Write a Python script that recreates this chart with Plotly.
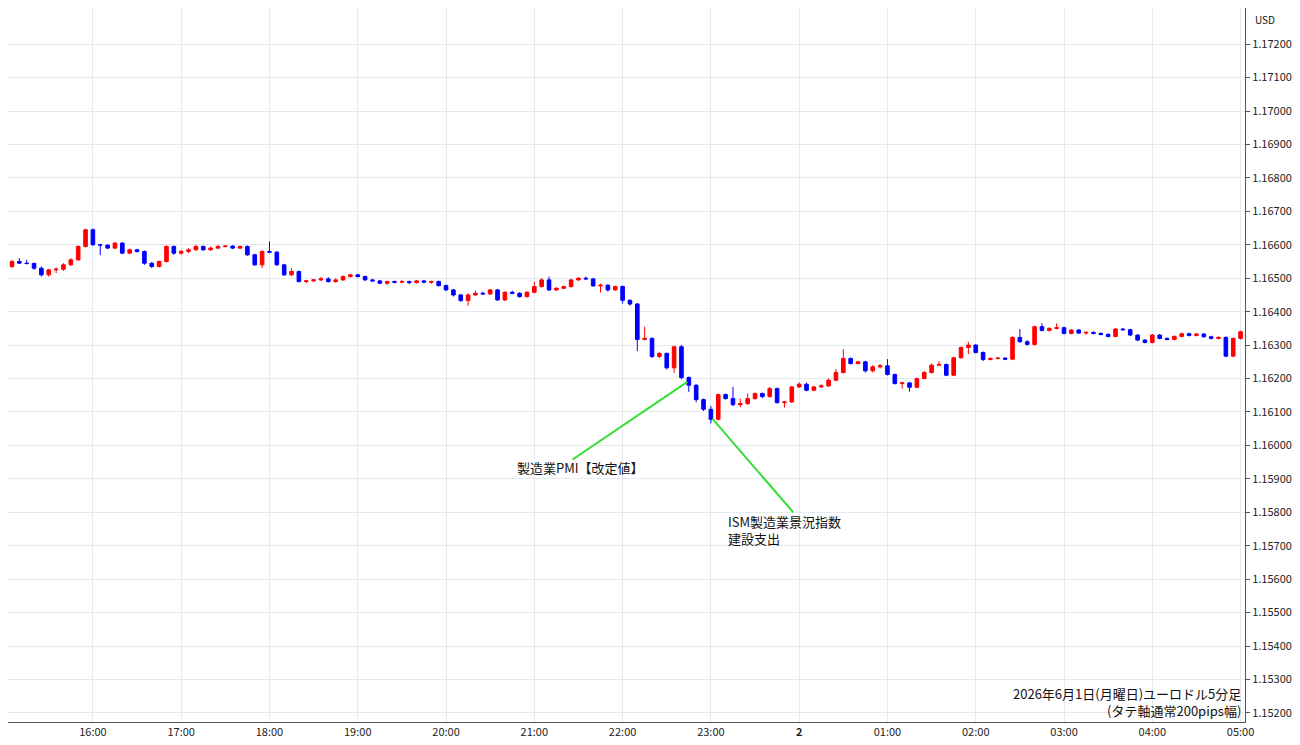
import plotly.graph_objects as go
import pandas as pd

BASE = 1.16
PIP = 0.0001
first_open = 51.5  # pips above 1.16000
closes = [
    53.5,55,54.5,54.4,53,51,52.5,52.7,54,55.5,59.5,64.5,
    60,59.9,59,60.5,57.5,58.5,58,54.5,53.5,55,59.5,57.5,
    58,58.5,59.5,58.5,59,59.5,59.6,59,59.5,57,54,58,
    57.8,54,51,52,49,49.2,49.5,49.8,49,49.5,50.5,51,
    50.5,49.5,49.2,48.5,49,48.8,49,48.7,49.2,48.8,49,47.8,
    46.5,45,43.3,45,45.5,45.3,46.5,43.5,45.8,45.5,44.5,45.8,
    47.5,49.5,46.5,47,47.5,49.5,50,49.8,47.7,47.9,46.5,47.5,
    43.4,42.3,31.7,32,26.6,27.5,23.2,29.5,20.3,18,13.7,10.8,
    7.8,15.2,14,12.2,12.5,14,15.5,14.6,17,12.8,13,17.5,
    18.3,16.5,17.5,17.8,19.5,21.8,26,24.5,25,22.3,23.5,23.8,
    21.2,18.5,18.7,17.4,20,21.8,24,24.2,21,26.2,29.3,30,
    27.8,25.7,26,26.1,25.8,32.3,31,30.2,35.5,34.4,35,35.2,
    33.5,34.5,33.6,33.8,33.5,33.2,32.6,34.8,34.6,33,31.5,30.8,
    33,32,31.7,32.6,33.4,32.9,33.3,32.5,32,32.3,26.7,32,
    34,
]
upper_wick = [
    1,0.5,1,1,0.3,0.5,0.3,0.5,0.5,0.5,0.3,0.3,
    0.3,0.3,0.3,0.3,0.3,0.3,0.3,0.3,0.3,0.3,0.3,0.3,
    0.5,0.5,0.5,0.3,0.5,0.5,0.3,0.3,0.3,0.3,0.3,0.3,
    3,0.3,0.3,1,0.3,0.3,0.3,0.6,0.5,0.5,0.3,0.3,
    0.3,0.3,0.3,0.3,0.3,0.3,0.5,0.3,0.3,0.3,0.3,0.3,
    0.3,0.3,0.3,0.5,0.8,0.5,0.3,0.3,0.3,0.5,0.3,0.3,
    1.5,0.5,1,0.3,0.3,0.3,0.3,0.5,0.3,0.5,0.3,0.3,
    0.3,0.3,0.3,3.5,0.3,0.5,0.3,0.3,0.5,0.3,0.3,0.3,
    1,0.3,0.3,3.5,1.5,1.5,0.3,0.3,0.5,0.3,0.3,0.3,
    0.5,0.5,0.3,0.5,0.5,1,2.8,0.3,0.3,0.3,0.5,0.5,
    2,0.3,0.3,0.3,0.3,0.5,0.5,1,0.3,0.3,0.3,1,
    0.3,0.3,0.3,0.3,0.3,0.3,2.5,0.5,0.3,1,0.3,1.3,
    0.3,0.3,0.3,0.3,0.3,0.3,0.3,0.3,0.3,0.3,0.3,0.3,
    0.3,0.3,0.3,0.3,0.3,0.3,0.3,0.3,0.3,0.3,0.3,0.3,
    0.3,
]
lower_wick = [
    0.3,0.5,0.3,0.3,0.5,0.5,0.5,1,0.5,0.3,0.3,0.3,
    0.3,3,0.3,0.3,0.3,0.3,0.3,0.5,0.5,0.3,0.3,0.5,
    0.5,0.5,0.3,0.3,0.3,0.3,0.3,0.3,0.3,0.3,0.3,1,
    0.3,0.3,0.3,0.3,0.3,0.5,0.3,0.3,0.3,0.3,0.3,0.3,
    0.3,0.3,0.3,0.3,0.5,0.3,0.3,0.5,0.3,0.3,0.5,0.3,
    0.3,0.5,0.3,1.5,0.3,0.3,0.3,0.3,0.3,0.3,0.3,0.3,
    0.3,0.3,0.3,0.3,0.3,0.3,0.3,0.3,0.3,2,0.5,0.3,
    1,0.5,3.5,0.3,0.5,0.5,0.5,1.5,0.5,2,0.8,0.5,
    1.2,0.3,0.3,0.5,0.8,0.3,0.3,0.5,0.3,0.3,1.5,0.3,
    0.3,0.3,0.3,0.3,0.3,0.3,0.3,0.3,0.3,0.5,0.5,0.5,
    0.3,0.3,1.5,1.3,0.3,0.3,0.3,0.3,0.3,0.3,0.3,2,
    0.3,0.5,0.3,0.3,0.3,0.3,0.3,0.3,0.3,0.3,0.3,0.3,
    0.3,0.3,0.3,0.5,0.3,0.3,0.3,0.3,0.3,0.3,0.3,0.3,
    0.3,0.3,0.3,0.3,0.3,0.3,0.3,0.3,0.3,0.3,0.3,0.3,
    0.3,
]

times = pd.date_range("2026-06-01 15:00", periods=len(closes), freq="5min")
opens = [first_open] + closes[:-1]
highs = [max(o, c) + u for o, c, u in zip(opens, closes, upper_wick)]
lows = [min(o, c) - l for o, c, l in zip(opens, closes, lower_wick)]
px = lambda v: [round(BASE + x * PIP, 5) for x in v]

tick_times = ["2026-06-01 %02d:00" % h for h in range(15, 24)] + ["2026-06-02 %02d:00" % h for h in range(0, 6)]
tick_text = ["15:00","16:00","17:00","18:00","19:00","20:00","21:00","22:00","23:00","<b>2</b>","01:00","02:00","03:00","04:00","05:00"]
y_ticks = [round(1.152 + i * 0.001, 3) for i in range(21)]

fig = go.Figure(go.Candlestick(
    x=times, open=px(opens), high=px(highs), low=px(lows), close=px(closes),
    increasing=dict(line=dict(color="#ff0000", width=1), fillcolor="#ff0000"),
    decreasing=dict(line=dict(color="#0000ff", width=1), fillcolor="#0000ff"),
    whiskerwidth=0, showlegend=False, hoverinfo="skip",
))

green = "#33dd33"
fig.add_shape(type="line", x0="2026-06-01 21:26", y0=1.15958, x1="2026-06-01 22:44", y1=1.16190,
              line=dict(color=green, width=2))
fig.add_shape(type="line", x0="2026-06-01 23:01", y0=1.16080, x1="2026-06-01 23:56", y1=1.15800,
              line=dict(color=green, width=2))
font = "Noto Sans CJK JP, Noto Sans, sans-serif"
fig.add_annotation(x="2026-06-01 20:47", y=1.15968, text="製造業PMI【改定値】", showarrow=False,
                   xanchor="left", yanchor="top", font=dict(size=13, color="#111"))
fig.add_annotation(x="2026-06-01 23:10", y=1.15808, text="ISM製造業景況指数<br>建設支出", showarrow=False,
                   xanchor="left", yanchor="top", align="left", font=dict(size=13, color="#111"))
fig.add_annotation(x=1, y=0, xref="paper", yref="paper", xanchor="right", yanchor="bottom",
                   text="2026年6月1日(月曜日)ユーロドル5分足<br>(タテ軸通常200pips幅)",
                   showarrow=False, align="right", xshift=-2, font=dict(size=13, color="#111"))
fig.add_annotation(x=1, y=1, xref="paper", yref="paper", xanchor="left", yanchor="top",
                   text="USD", showarrow=False, xshift=8, yshift=-2, font=dict(size=10, color="#111"))

fig.update_layout(
    width=1300, height=745, margin=dict(l=0, r=63, t=0, b=31),
    plot_bgcolor="white", paper_bgcolor="white",
    font=dict(family=font, size=11, color="#222"),
    xaxis=dict(type="date", range=["2026-06-01 15:02:18", "2026-06-02 05:03"],
               tickvals=tick_times, ticktext=tick_text, showgrid=True, gridcolor="#e4eaf1",
               rangeslider=dict(visible=False), showline=True, linecolor="#555", zeroline=False,
               tickfont=dict(size=11), ticks=""),
    yaxis=dict(side="right", range=[1.15173, 1.17308], tickvals=y_ticks, tickformat=".5f",
               showgrid=True, gridcolor="#e4eaf1", showline=True, linecolor="#555",
               ticks="outside", ticklen=4, tickcolor="#555", tickfont=dict(size=11), zeroline=False),
)
fig.write_html("out.html")
